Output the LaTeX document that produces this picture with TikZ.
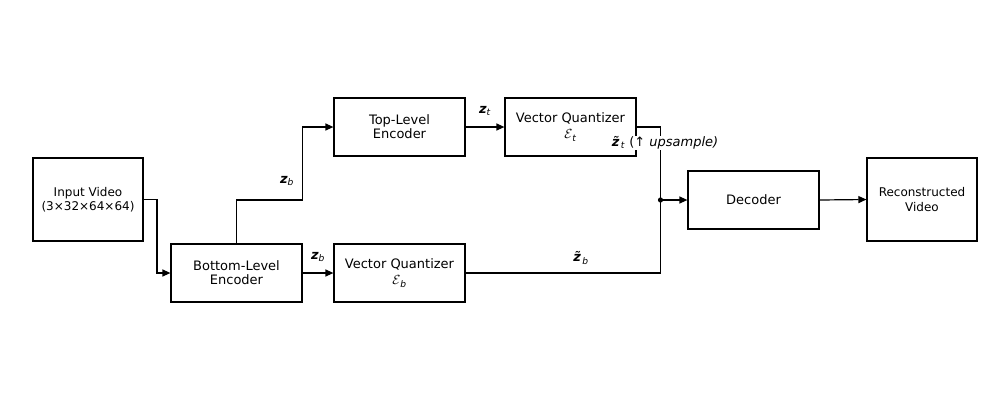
\documentclass[tikz,border=0pt]{standalone}
\usepackage{fontspec}
\setmainfont{DejaVu Sans}
\usetikzlibrary{arrows.meta,calc}
\newcommand{\zb}[1]{\textbf{\textit{z}}\textsubscript{\textit{#1}}}
\newcommand{\ztil}[1]{\textbf{\textit{\~{z}}}\textsubscript{\textit{#1}}}
\newcommand{\calE}[1]{\scalebox{1.1}{$\mathcal{E}$}\textsubscript{\textit{#1}}}
\begin{document}
\begin{tikzpicture}[x=1pt,y=-1pt,
  box/.style={draw,line width=1.2pt,align=center,inner sep=0pt,font=\fontsize{13}{14}\selectfont},
  smallbox/.style={box,minimum width=110pt,minimum height=83pt,font=\fontsize{12}{14.5}\selectfont},
  bigbox/.style={box,minimum width=131pt,minimum height=58pt},
  conn/.style={line width=1.2pt},
  arr/.style={conn,-{Triangle[length=8pt,width=7pt]}},
  lab/.style={font=\fontsize{13}{14}\selectfont,inner sep=1pt}]
\useasboundingbox (0,0) rectangle (1000,400);
\fill[white] (0,0) rectangle (1000,400);
\node[smallbox] (in) at (88,199.5) {Input Video\\(3×32×64×64)};
\node[bigbox] (be) at (236.5,273) {Bottom-Level\\Encoder};
\node[bigbox] (te) at (399.5,127) {Top-Level\\Encoder};
\node[bigbox] (vqt) at (570.5,127) {Vector Quantizer\\[2pt]\calE{t}};
\node[bigbox] (vqb) at (399.5,273) {Vector Quantizer\\[2pt]\calE{b}};
\node[bigbox] (dec) at (753.5,200) {Decoder};
\node[smallbox] (rec) at (922,199.5) {Reconstructed\\Video};
\coordinate (c1) at (157,199.5);
\coordinate (c2) at (302.5,200);
\coordinate (j) at (660.5,200);
\draw[arr] (in.east) -- (c1) |- (be.west);
\draw[arr] (be.north) |- (c2) |- (te.west);
\draw[arr] (be.east) -- (vqb.west);
\draw[arr] (te.east) -- (vqt.west);
\draw[conn] (vqt.east) -| (j);
\draw[conn] (vqb.east) -| (j);
\draw[arr] (j) -- (dec.west);
\draw[arr] (dec.east) -- (rec.west);
\fill (j) circle (2.6);
\node[lab] (lzb1) at (287,181) {\zb{b}};
\node[lab] (lzb2) at (318,257) {\zb{b}};
\node[lab] (lzt) at (485,111) {\zb{t}};
\node[lab,fill=white,inner sep=0.5pt] (lzti) at (665,143) {\ztil{t} (↑ \textit{upsample)}};
\node[lab] (lzbt) at (581,258) {\ztil{b}};
\end{tikzpicture}
\end{document}
